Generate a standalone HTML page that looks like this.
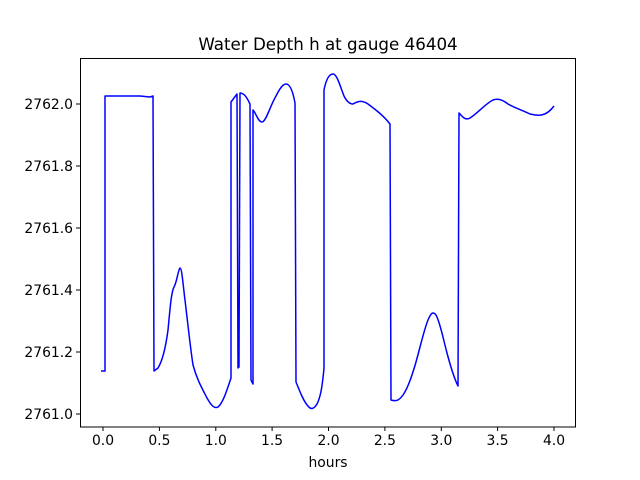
<!DOCTYPE html>
<html><head><style>body{margin:0;background:#fff}svg{display:block}text{font-family:"DejaVu Sans","Liberation Sans",sans-serif;fill:#000}</style></head>
<body>
<svg width="640" height="480" viewBox="0 0 640 480">
<rect width="640" height="480" fill="#fff"/>
<path fill="none" stroke="#0000ff" stroke-width="1.5" stroke-linejoin="round" d="M101,371 L105,371 L105,96 L140,96 L150,97 L153,96 L154,371 L158,368 C163,360 166,345 168,330 C170,310 171,293 174,287 C177,282 178,270 180,268 C182,268 183,285 185,300 C188,325 190,345 193,365 C197,380 203,390 207,398 C211,405 214,409 218,407 C223,403 227,390 231,378 L231,102 L237,94 L238,368 L239,367 L240,93 C245,93 248,100 250,104 L251,380 L253,384 L253,110 C256,113 258,122 262,122 C266,122 270,106 276,96 C280,88 283,84 286,84 C290,84 293,92 295,103 L296,382 C300,392 304,402 308,406 C311,410 314,409 317,404 C320,398 322,390 324,368 L324,90 C326,80 329,74 333,74 C337,74 340,86 344,96 C347,102 350,104 353,104 C358,101 362,100 368,104 C376,110 384,116 390,124 L391,400 C395,401 398,402 403,395 C408,388 412,376 416,362 C421,344 424,330 428,320 C431,313 433,311 436,315 C440,322 443,338 447,353 C451,368 455,380 458,386 L459,113 C462,116 465,121 470,118 C478,113 485,104 493,100 C498,98 503,100 508,104 C515,108 522,110 530,114 C538,116 546,117 554,106"/>
<rect x="80.5" y="58.5" width="495" height="368.5" fill="none" stroke="#000" stroke-width="1"/>
<g stroke="#000" stroke-width="1">
<line x1="103" y1="427" x2="103" y2="431"/><line x1="159.4" y1="427" x2="159.4" y2="431"/><line x1="215.8" y1="427" x2="215.8" y2="431"/><line x1="272.1" y1="427" x2="272.1" y2="431"/><line x1="328.5" y1="427" x2="328.5" y2="431"/><line x1="384.9" y1="427" x2="384.9" y2="431"/><line x1="441.3" y1="427" x2="441.3" y2="431"/><line x1="497.6" y1="427" x2="497.6" y2="431"/><line x1="554" y1="427" x2="554" y2="431"/>
<line x1="76" y1="414" x2="80" y2="414"/><line x1="76" y1="352" x2="80" y2="352"/><line x1="76" y1="290" x2="80" y2="290"/><line x1="76" y1="228" x2="80" y2="228"/><line x1="76" y1="166" x2="80" y2="166"/><line x1="76" y1="104" x2="80" y2="104"/>
</g>
<g font-size="13.9" text-anchor="middle">
<text x="103" y="445">0.0</text><text x="159.4" y="445">0.5</text><text x="215.8" y="445">1.0</text><text x="272.1" y="445">1.5</text><text x="328.5" y="445">2.0</text><text x="384.9" y="445">2.5</text><text x="441.3" y="445">3.0</text><text x="497.6" y="445">3.5</text><text x="554" y="445">4.0</text>
<text x="328" y="467">hours</text>
</g>
<g font-size="13.9" text-anchor="end">
<text x="73" y="419">2761.0</text><text x="73" y="357">2761.2</text><text x="73" y="295">2761.4</text><text x="73" y="233">2761.6</text><text x="73" y="171">2761.8</text><text x="73" y="109">2762.0</text>
</g>
<text x="328" y="50" font-size="16.7" text-anchor="middle">Water Depth h at gauge 46404</text>
</svg>
</body></html>
